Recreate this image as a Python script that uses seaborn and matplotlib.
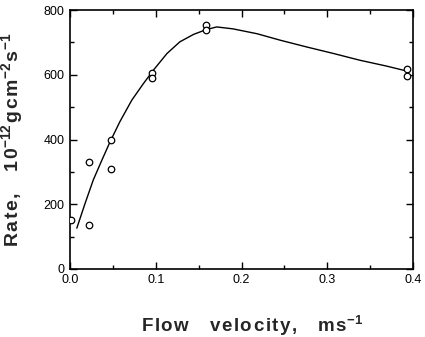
import matplotlib
matplotlib.use("Agg")
import matplotlib.pyplot as plt
import seaborn as sns
import pandas as pd
from matplotlib.ticker import MultipleLocator

sns.set_theme(style="white")
plt.rcParams['font.family'] = ['Liberation Sans', 'DejaVu Sans']
plt.rcParams['mathtext.fontset'] = 'custom'
plt.rcParams['mathtext.rm'] = 'Liberation Sans:bold'
plt.rcParams['mathtext.bf'] = 'Liberation Sans:bold'

# measured points
point_velocity = [0.001, 0.022, 0.022, 0.048, 0.048, 0.096, 0.096, 0.159, 0.159, 0.393, 0.393]
point_rate = [150, 330, 135, 400, 310, 605, 590, 753, 738, 619, 596]

# fitted curve
curve_velocity = [0.0078, 0.0175, 0.027, 0.037, 0.0466, 0.058, 0.072, 0.0855, 0.097, 0.113,
                  0.128, 0.144, 0.159, 0.171, 0.19, 0.218, 0.245, 0.276, 0.307, 0.338, 0.369, 0.389]
curve_rate = [126, 203, 275, 336, 393, 455, 522, 573, 614, 666,
              702, 725, 740, 748, 742, 727, 707, 686, 666, 645, 627, 614]

x_ticks = [0.0, 0.1, 0.2, 0.3, 0.4]
x_tick_labels = ["0.0", "0.1", "0.2", "0.3", "0.4"]
y_ticks = [0, 200, 400, 600, 800]
y_tick_labels = ["0", "200", "400", "600", "800"]

points = pd.DataFrame({"v": point_velocity, "r": point_rate})
curve = pd.DataFrame({"v": curve_velocity, "r": curve_rate})

fig = plt.figure(figsize=(4.25, 3.37), dpi=100)
ax = fig.add_axes([0.165, 0.202, 0.807, 0.768])

sns.lineplot(data=curve, x="v", y="r", ax=ax, color="black", linewidth=1.0, sort=False)
sns.scatterplot(data=points, x="v", y="r", ax=ax, marker="o", s=22,
                facecolor="white", edgecolor="black", linewidth=0.9, zorder=3)

ax.set_xlim(0, 0.4)
ax.set_ylim(0, 800)
ax.set_xticks(x_ticks)
ax.set_xticklabels(x_tick_labels)
ax.set_yticks(y_ticks)
ax.set_yticklabels(y_tick_labels)
ax.xaxis.set_minor_locator(MultipleLocator(0.05))
ax.yaxis.set_minor_locator(MultipleLocator(100))
ax.tick_params(which="both", direction="in", top=True, right=True, bottom=True, left=True,
               color="black", width=1.0)
ax.tick_params(which="major", length=5, labelsize=9, pad=4, labelcolor="black")
ax.tick_params(which="minor", length=3)
for s in ax.spines.values():
    s.set_color("black")
    s.set_linewidth(1.2)

hs = "\u200a"
def spaced(s):
    return hs.join(s)

ax.set_xlabel(spaced("Flow") + "    " + spaced("velocity,") + "    " + spaced("ms") + "$^{-1}$",
              fontsize=13.5, fontweight="bold")
ax.xaxis.set_label_coords(0.53, -0.17)
ax.set_ylabel(spaced("Rate,") + "    " + spaced("10") + "$^{-12}$" + hs + spaced("gcm") + "$^{-2}$" + hs + "s$^{-1}$",
              fontsize=14, fontweight="bold")
ax.yaxis.set_label_coords(-0.13, 0.5)

fig.savefig("out.png", dpi=100)
